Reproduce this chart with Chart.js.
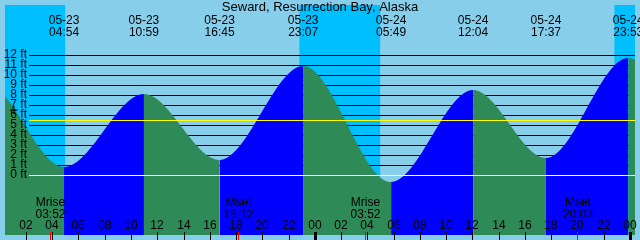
<!DOCTYPE html>
<html>
<head>
<meta charset="utf-8">
<title>Seward, Resurrection Bay, Alaska</title>
<script src="https://cdn.jsdelivr.net/npm/chart.js@4.4.1/dist/chart.umd.min.js"></script>
<style>
  html, body { margin: 0; padding: 0; background: #87ceeb; }
  #tideChart { display: block; }
</style>
</head>
<body>
<canvas id="tideChart" width="640" height="240"></canvas>
<script>
// Tide highs and lows (first two and last one lie just outside the window)
const tideDates = ["05-22", "05-22", "05-23", "05-23", "05-23", "05-23", "05-24", "05-24", "05-24", "05-24", "05-25"];
const tideTimes = ["16:20", "22:54", "04:54", "10:59", "16:45", "23:07", "05:49", "12:04", "17:37", "23:53", "06:30"];
const tideHeights = [1.4, 9.2, 0.8, 8.1, 1.5, 10.9, -0.7, 8.5, 1.7, 11.7, -1.2];

// Daylight
const sunriseTimes = ["05-23 04:59", "05-24 04:59"];
const sunsetTimes = ["05-23 22:50", "05-24 22:50"];

// Moon rise / set
const moonEvents = ["Mrise", "Mset", "Mrise", "Mset"];
const moonTimes = ["05-23 03:52", "05-23 18:12", "05-24 03:52", "05-24 20:03"];

// Current time marker on the curve
const nowTime = "05-23 01:05";
const nowHeight = 6.5;

// Axis labels
const feetLabels = ["0 ft", "1 ft", "2 ft", "3 ft", "4 ft", "5 ft", "6 ft", "7 ft", "8 ft", "9 ft", "10 ft", "11 ft", "12 ft"];
const hourLabels = ["02", "04", "06", "08", "10", "12", "14", "16", "18", "20", "22", "00",
                    "02", "04", "06", "08", "10", "12", "14", "16", "18", "20", "22", "00"];
const meanLevel = 5.5;
const windowStart = "05-23 00:24";
const windowHours = 48;

const FONT = "'Liberation Sans', Arial, sans-serif";

// hours since 05-23 00:00
function toHours(stamp) {
  const [md, hm] = stamp.split(" ");
  const day = Number(md.split("-")[1]);
  const [h, m] = hm.split(":").map(Number);
  return (day - 23) * 24 + h + m / 60;
}

const tidePoints = tideTimes.map((t, i) => ({ x: toHours(tideDates[i] + " " + t), y: tideHeights[i] }));

function hline(ctx, y, x0, x1, color) {
  const py = Math.round(y) + 0.5;
  ctx.strokeStyle = color;
  ctx.lineWidth = 1;
  ctx.beginPath();
  ctx.moveTo(x0, py);
  ctx.lineTo(x1, py);
  ctx.stroke();
}

function text(ctx, str, x, y, size, align) {
  ctx.font = size + "px " + FONT;
  ctx.textAlign = align || "center";
  ctx.fillStyle = "#000";
  ctx.fillText(str, x, y);
}

const tidePainter = {
  id: "tidePainter",
  beforeDatasetsDraw(chart) {
    const { ctx, chartArea: a, scales: { x, y } } = chart;
    ctx.save();
    // night sky, then daylight bands
    ctx.fillStyle = "#00bfff";
    ctx.fillRect(a.left, a.top, a.width, a.height);
    ctx.fillStyle = "#87ceeb";
    sunriseTimes.forEach((t, i) => {
      const x0 = x.getPixelForValue(toHours(t));
      const x1 = x.getPixelForValue(toHours(sunsetTimes[i]));
      ctx.fillRect(x0, a.top, x1 - x0, a.height);
    });
    // foot lines hidden by the water
    feetLabels.forEach((_, ft) => {
      if (ft > 0) hline(ctx, y.getPixelForValue(ft), 29, a.right, "#000");
    });
    ctx.restore();
  },
  afterDatasetsDraw(chart) {
    const { ctx, chartArea: a, scales: { x, y } } = chart;
    ctx.save();
    hline(ctx, y.getPixelForValue(0), 29, a.right, "#fff");
    hline(ctx, y.getPixelForValue(meanLevel), 29, a.right, "#ffff00");

    ctx.textBaseline = "middle";
    feetLabels.forEach((lbl, ft) => text(ctx, lbl, 27, y.getPixelForValue(ft), 12, "right"));

    ctx.textBaseline = "alphabetic";
    text(ctx, "Seward, Resurrection Bay, Alaska", 320, 11, 13);

    // tide times along the top
    tidePoints.forEach((p, i) => {
      if (p.x < x.min || p.x > x.max) return;
      const px = x.getPixelForValue(p.x);
      text(ctx, tideDates[i], px, 24, 12);
      text(ctx, tideTimes[i], px, 36, 12);
    });

    // hour ticks
    hourLabels.forEach((lbl, i) => {
      const px = Math.round(x.getPixelForValue((i + 1) * 2));
      text(ctx, lbl, px, 229, 12);
      ctx.fillStyle = "#000";
      if (lbl === "00") ctx.fillRect(px - 1, 232, 3, 8);
      else ctx.fillRect(px, 232, 1, 8);
    });

    // moon events
    moonTimes.forEach((t, i) => {
      const px = x.getPixelForValue(toHours(t));
      text(ctx, moonEvents[i], px, 206, 12);
      text(ctx, t.split(" ")[1], px, 218, 12);
      ctx.fillStyle = "#ff0000";
      ctx.fillRect(Math.floor(px), 232, 1, 8);
    });
    ctx.restore();
  }
};

new Chart(document.getElementById("tideChart"), {
  type: "line",
  data: {
    datasets: [
      {
        label: "now",
        data: [{ x: toHours(nowTime), y: nowHeight }],
        showLine: false,
        pointStyle: "cross",
        pointRadius: 4,
        borderColor: "#000",
        borderWidth: 1,
        order: 0
      },
      {
        label: "Tide",
        data: tidePoints,
        fill: "start",
        backgroundColor: "#2e8b57",
        borderColor: "rgba(0,0,0,0)",
        borderWidth: 0,
        pointRadius: 0,
        cubicInterpolationMode: "monotone",
        capBezierPoints: false,
        segment: {
          backgroundColor: c => tideHeights[c.p1DataIndex] > tideHeights[c.p0DataIndex] ? "#0000ff" : "#2e8b57"
        },
        order: 1
      }
    ]
  },
  options: {
    responsive: false,
    animation: false,
    devicePixelRatio: 1,
    layout: { padding: 0 },
    plugins: { legend: { display: false }, tooltip: { enabled: false } },
    scales: {
      x: { type: "linear", min: toHours(windowStart), max: toHours(windowStart) + windowHours, display: false },
      y: { min: -6, max: 17, display: false }
    }
  },
  plugins: [tidePainter]
});
</script>
</body>
</html>
